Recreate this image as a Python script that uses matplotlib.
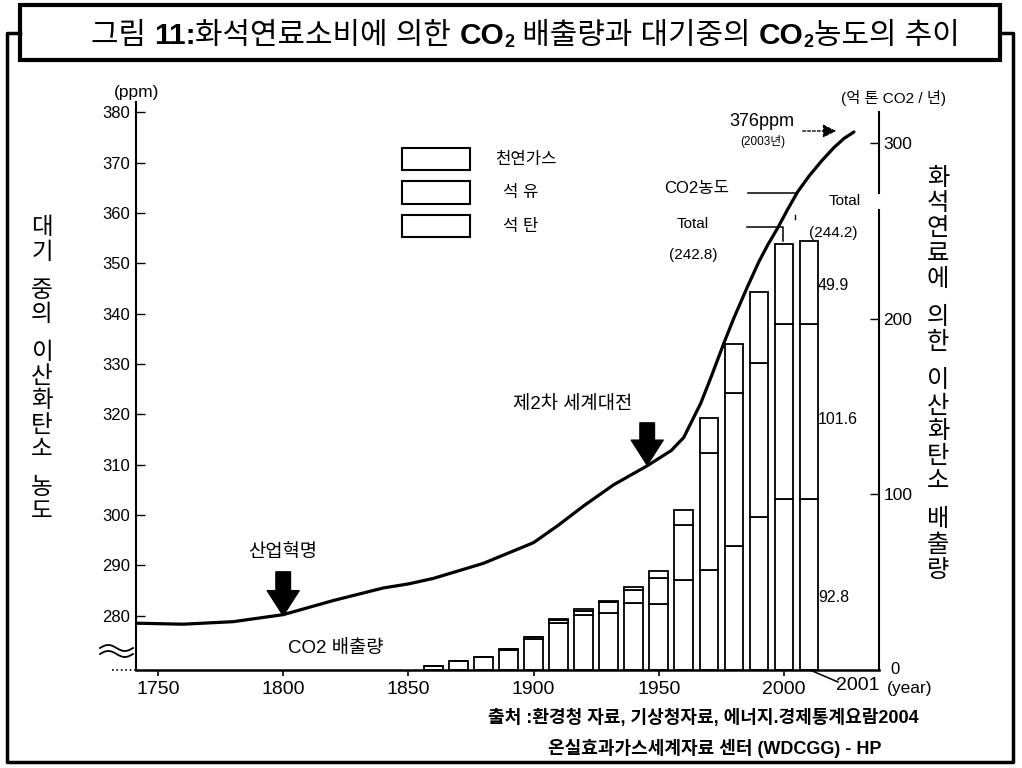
import matplotlib
matplotlib.use('Agg')
import matplotlib.pyplot as plt
import numpy as np
from matplotlib.lines import Line2D
from matplotlib.patches import Rectangle, FancyArrowPatch
from matplotlib.transforms import blended_transform_factory

# ---------------- data ----------------
co2_years = [1741.2, 1760, 1780, 1800, 1820, 1840, 1850, 1860, 1880, 1900, 1910,
             1920, 1932, 1945.5, 1955, 1960, 1966.8, 1971, 1976, 1980, 1985.5, 1990,
             1993.5, 1997.5, 2001.5, 2005.5, 2010, 2015, 2020, 2024, 2028]
co2_ppm = [278.5, 278.3, 278.8, 280.2, 283.0, 285.5, 286.3, 287.4, 290.4, 294.5, 298.0,
           301.8, 306.0, 309.8, 312.8, 315.4, 322.2, 327.5, 334.1, 339.1, 345.4, 350.3,
           353.6, 357.0, 360.7, 364.2, 367.3, 370.3, 373.0, 374.8, 376.1]

bar_years = ['1860', '1870', '1880', '1890', '1900', '1910', '1920', '1930', '1940',
             '1950', '1960', '1970', '1980', '1990', '2000', '2001']
coal = [2.3, 5.0, 7.6, 11.3, 17.9, 27.0, 31.3, 32.6, 37.9, 37.5, 51.2, 57.0, 70.7, 87.4, 97.5, 97.5]
oil = [0, 0, 0, 0.9, 1.0, 1.4, 2.2, 5.9, 7.6, 15.1, 31.1, 66.6, 87.2, 87.6, 99.5, 99.5]
gas = [0, 0, 0, 0, 0, 0.9, 1.5, 0.9, 1.9, 4.0, 8.9, 20.0, 27.6, 40.0, 45.8, 47.2]

left_ticks = [280, 290, 300, 310, 320, 330, 340, 350, 360, 370, 380]
right_ticks = [100, 200, 300]
x_ticks = [1750, 1800, 1850, 1900, 1950, 2000]

legend_labels = ['천연가스', '석 유', '석 탄']
labels_2001 = ['49.9', '101.6', '92.8']

# ---------------- setup ----------------
FAM = ['Liberation Sans', 'Noto Sans CJK KR']
plt.rcParams['font.family'] = FAM
W, H = 1022, 768
fig = plt.figure(figsize=(W / 100, H / 100), dpi=100)
fig.patch.set_facecolor('white')


def fx(x):
    return x / W


def fy(y):
    return 1 - y / H


def fline(xs, ys, **kw):
    fig.add_artist(Line2D([fx(v) for v in xs], [fy(v) for v in ys], color='black', **kw))


def ftext(x, y, s, **kw):
    kw.setdefault('ha', 'center')
    kw.setdefault('va', 'center')
    return fig.text(fx(x), fy(y), s, **kw)


AX_L, AX_R, AX_B, AX_T = 136, 879, 670, 102
ax = fig.add_axes([fx(AX_L), fy(AX_B), (AX_R - AX_L) / W, (AX_B - AX_T) / H])
ax.set_xlim(1741.2, 2038.0)
ax.set_ylim(269.2, 382.05)
ax2 = ax.twinx()
ax2.set_ylim(0, (AX_B - AX_T) / 1.756)
ax.set_zorder(ax2.get_zorder() + 1)
ax.patch.set_visible(False)

# bars (right axis)
bar_x = [1860 + 10 * i for i in range(len(bar_years))]
bw = 7.4
kw = dict(width=bw, facecolor='white', edgecolor='black', linewidth=1.3)
ax2.bar(bar_x, coal, **kw)
ax2.bar(bar_x, oil, bottom=coal, **kw)
bottom_gas = [c + o for c, o in zip(coal, oil)]
ax2.bar(bar_x, gas, bottom=bottom_gas, **kw)

# CO2 curve (left axis)
ax.plot(co2_years, co2_ppm, color='black', linewidth=2.3, solid_capstyle='round',
        solid_joinstyle='round', zorder=5)

# spines & ticks
for s in ['top', 'right']:
    ax.spines[s].set_visible(False)
for s in ['top', 'right', 'left', 'bottom']:
    ax2.spines[s].set_visible(False)
ax.spines['left'].set_linewidth(1.5)
ax.spines['bottom'].set_linewidth(1.8)

ax.set_yticks(left_ticks)
ax.tick_params(axis='y', direction='in', length=6.5, width=1.0, pad=4, labelsize=12)
ax.set_xticks(x_ticks)
ax.tick_params(axis='x', direction='out', length=4, width=1.2, pad=4, labelsize=14)
ax2.set_yticks(right_ticks)
ax2.tick_params(axis='y', direction='in', length=6.5, width=1.0, pad=3, labelsize=12.5)

# right spine (with a small gap)
bt = blended_transform_factory(ax2.transAxes, ax2.transData)
for y0, y1 in [(0, 262), (271.6, 317.5)]:
    ax2.plot([1, 1], [y0, y1], color='black', linewidth=1.5, transform=bt, clip_on=False)

# arrows
arrow_kw = dict(arrowstyle='simple,head_length=1.8,head_width=2.3,tail_width=1.05',
                color='black', shrinkA=0, shrinkB=0, mutation_scale=10)
ax.annotate('', xy=(1800, 280.0), xytext=(1800, 288.7), arrowprops=arrow_kw, zorder=6)
ax.annotate('', xy=(1945.4, 309.9), xytext=(1945.4, 318.3), arrowprops=arrow_kw, zorder=6)

# x axis extension & break symbol
fline([112, 136], [670, 670], linewidth=1.2, linestyle=':')
t = np.linspace(0, 1, 40)
for off in (-3, 3):
    xs = 100 + 33 * t
    ys = 651 + off - 3 * np.sin(2 * np.pi * t)
    fline(xs, ys, linewidth=1.3)

# axis text
ftext(137, 92, '(ppm)', fontsize=12.5)
ftext(893, 98, '(억 톤 CO2 / 년)', fontsize=11)
ftext(895, 669, '0', fontsize=12)
ftext(858, 685, '2001', fontsize=14)
ftext(910, 688, '(year)', fontsize=12.5)
fline([810, 838], [670, 682], linewidth=1.1)


# vertical labels (upright characters)
def vlabel(x, y0, text, step, gap, size):
    y = y0
    for ch in text:
        if ch == ' ':
            y += gap
            continue
        ftext(x, y, ch, fontsize=size, family=['Noto Sans CJK KR'])
        y += step


vlabel(42, 228, '대기 중의 이산화탄소 농도', 24.3, 13.5, 17)
vlabel(938, 178, '화석연료에 의한 이산화탄소 배출량', 25.2, 13, 17.5)

# legend
for i, lab in enumerate(legend_labels):
    y_top = 148 + i * 33.5
    fig.add_artist(Rectangle((fx(402), fy(y_top + 22)), 68 / W, 22 / H, facecolor='white',
                             edgecolor='black', linewidth=1.5))
    ftext(495 if i == 0 else 503, y_top + 11, lab, fontsize=12, ha='left')

# annotations
ftext(762, 121, '376ppm', fontsize=13)
ftext(763, 141, '(2003년)', fontsize=8.5)
fig.add_artist(FancyArrowPatch(
    (fx(800), fy(131)), (fx(839), fy(131)), transform=fig.transFigure,
    arrowstyle='-|>,head_length=4,head_width=2', linestyle=(0, (2, 1.5)), linewidth=1.0,
    color='black', mutation_scale=2))
ftext(697, 188, 'CO2농도', fontsize=12)
fline([748, 797], [193, 193], linewidth=1.1)
ftext(693, 224, 'Total', fontsize=11)
ftext(693, 255, '(242.8)', fontsize=11)
fline([747, 783, 783], [227, 227, 241], linewidth=1.1)
fline([795, 795], [215, 219], linewidth=1.0)
ftext(845, 201, 'Total', fontsize=11)
ftext(833, 233, '(244.2)', fontsize=11)
ftext(818, 285, labels_2001[0], fontsize=11.5, ha='left')
ftext(818, 420, labels_2001[1], fontsize=11.5, ha='left')
ftext(818, 597, labels_2001[2], fontsize=11.5, ha='left')
ftext(573, 405, '제2차 세계대전', fontsize=13.5)
ftext(283, 553, '산업혁명', fontsize=13.5)
ftext(336, 648, 'CO2 배출량', fontsize=13.5)

# source
ftext(703, 718, '출처 :환경청 자료, 기상청자료, 에너지.경제통계요람2004', fontsize=13,
      fontweight='bold')
ftext(715, 748, '온실효과가스세계자료 센터 (WDCGG) - HP', fontsize=13, fontweight='bold')

# frame and title box
fline([20, 7, 7, 1013, 1013, 1000], [33, 33, 762, 762, 33, 33], linewidth=2.5)
fig.add_artist(Rectangle((fx(20), fy(60)), 980 / W, 55 / H, facecolor='white',
                         edgecolor='black', linewidth=3))

pieces = [('그림 ', 'normal', 21.5, 0), ('11:', 'bold', 21.5, 0),
          ('화석연료소비에 의한 ', 'normal', 21.5, 0), ('CO', 'bold', 21.5, 0),
          ('2', 'bold', 13, 3), (' 배출량과 대기중의 ', 'normal', 21.5, 0),
          ('CO', 'bold', 21.5, 0), ('2', 'bold', 13, 3), ('농도의 추이', 'normal', 21.5, 0)]
renderer = fig.canvas.get_renderer()
arts = []
for s, wt, sz, dy in pieces:
    a = fig.text(0, fy(44 + dy), s, fontsize=sz, fontweight=wt, ha='left', va='baseline')
    arts.append(a)
widths = [a.get_window_extent(renderer).width for a in arts]
total = sum(widths)
x = 525 - total / 2
for a, w_ in zip(arts, widths):
    a.set_x(fx(x))
    x += w_

fig.savefig('out.png', dpi=100, facecolor='white')
